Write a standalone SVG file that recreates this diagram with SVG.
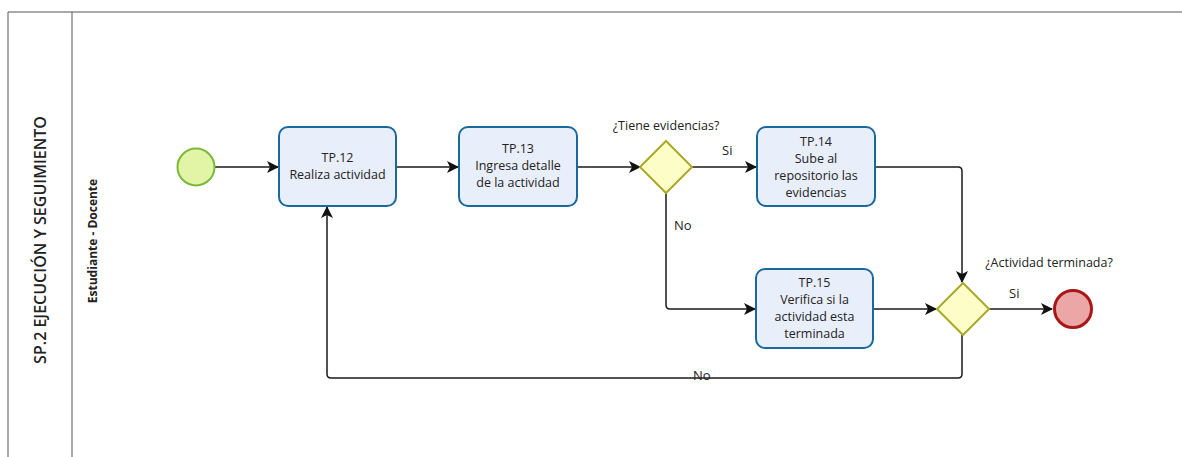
<svg xmlns="http://www.w3.org/2000/svg" width="1182" height="457" viewBox="0 0 1182 457">
<style>
text{font-family:"Open Sans","Noto Sans","Liberation Sans",sans-serif;fill:#222}
.t{font-size:12.5px;text-anchor:middle}
.task{fill:#e9eefb;stroke:#19699c;stroke-width:2}
.gw{fill:#fdfdc8;stroke:#a9a92a;stroke-width:2}
.c{fill:none;stroke:#1a1a1a;stroke-width:1.5}
.lbl{font-size:13px}
</style>
<defs>
<marker id="a" markerWidth="12" markerHeight="12" refX="11" refY="6" orient="auto" markerUnits="userSpaceOnUse">
<path d="M0,0 L12,6 L0,12 L3,6 Z" fill="#111"/>
</marker>
</defs>
<rect width="1182" height="457" fill="#fff"/>
<g id="pool">
<path d="M8,457 L8,12 L1182,12" fill="none" stroke="#555" stroke-width="1"/>
<line x1="72" y1="12" x2="72" y2="457" stroke="#555" stroke-width="1"/>
<text transform="translate(46,240) rotate(-90)" text-anchor="middle" style="font-size:16px;font-weight:600">SP.2 EJECUCIÓN Y SEGUIMIENTO</text>
<text transform="translate(97,241) rotate(-90)" text-anchor="middle" style="font-size:12px;font-weight:700">Estudiante - Docente</text>
</g>
<g id="connectors">
<line class="c" x1="215" y1="167" x2="278" y2="167" marker-end="url(#a)"/>
<line class="c" x1="396" y1="167" x2="458" y2="167" marker-end="url(#a)"/>
<line class="c" x1="577" y1="167" x2="640" y2="167" marker-end="url(#a)"/>
<line class="c" x1="692" y1="167" x2="756" y2="167" marker-end="url(#a)"/>
<path class="c" d="M875,167 L958,167 Q962,167 962,171 L962,282" marker-end="url(#a)"/>
<path class="c" d="M666,193 L666,305 Q666,309 670,309 L755,309" marker-end="url(#a)"/>
<line class="c" x1="873" y1="309" x2="936" y2="309" marker-end="url(#a)"/>
<line class="c" x1="989" y1="309" x2="1052" y2="309" marker-end="url(#a)"/>
<path class="c" d="M962,335 L962,374 Q962,378 958,378 L331,378 Q327,378 327,374 L327,207" marker-end="url(#a)"/>
<text class="lbl" x="722" y="155">Si</text>
<text class="lbl" x="674" y="230">No</text>
<text class="lbl" x="1009" y="298">Si</text>
<text class="lbl" x="693" y="380">No</text>
</g>
<g id="start"><circle cx="196" cy="167" r="18.5" fill="#e2f5a6" stroke="#7cb83a" stroke-width="2"/></g>
<g id="tp12">
<rect class="task" x="279" y="127" width="117" height="79" rx="9"/>
<text class="t" x="337.5" y="162">TP.12</text>
<text class="t" x="337.5" y="179">Realiza actividad</text>
</g>
<g id="tp13">
<rect class="task" x="459" y="127" width="118" height="79" rx="9"/>
<text class="t" x="518" y="153">TP.13</text>
<text class="t" x="518" y="170">Ingresa detalle</text>
<text class="t" x="518" y="187">de la actividad</text>
</g>
<g id="gw1">
<polygon class="gw" points="666,141 692,167 666,193 640,167"/>
<text class="t" x="666" y="130">¿Tiene evidencias?</text>
</g>
<g id="tp14">
<rect class="task" x="757" y="127" width="118" height="79" rx="9"/>
<text class="t" x="816" y="146">TP.14</text>
<text class="t" x="816" y="163">Sube al</text>
<text class="t" x="816" y="180">repositorio las</text>
<text class="t" x="816" y="197">evidencias</text>
</g>
<g id="tp15">
<rect class="task" x="756" y="269" width="117" height="79" rx="9"/>
<text class="t" x="814.5" y="287">TP.15</text>
<text class="t" x="814.5" y="304">Verifica si la</text>
<text class="t" x="814.5" y="321">actividad esta</text>
<text class="t" x="814.5" y="338">terminada</text>
</g>
<g id="gw2">
<polygon class="gw" points="963,283 989,309 963,335 937,309"/>
<text class="t" x="1049" y="267">¿Actividad terminada?</text>
</g>
<g id="end"><circle cx="1073" cy="309" r="18.5" fill="#eba6a6" stroke="#a81818" stroke-width="3"/></g>
</svg>
